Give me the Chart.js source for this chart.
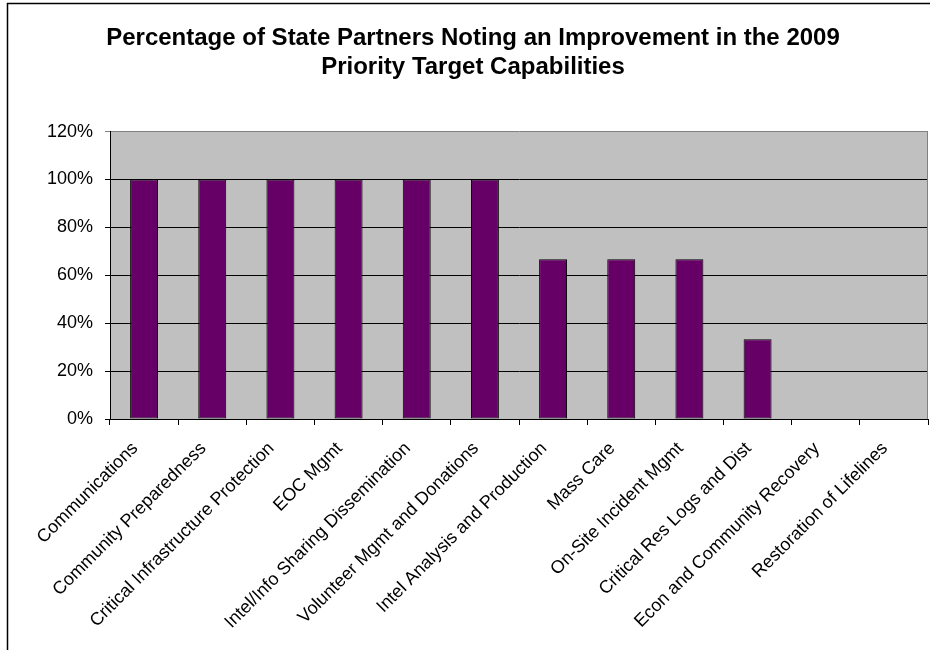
<!DOCTYPE html>
<html>
<head>
<meta charset="utf-8">
<script src="https://cdn.jsdelivr.net/npm/chart.js@4/dist/chart.umd.min.js"></script>
<style>
    body { margin: 0; background: #fff; }
    #wrap { width: 930px; height: 650px; position: relative; }
</style>
</head>
<body>
<div id="wrap"><canvas id="chart" width="930" height="650"></canvas></div>
<script>
    "use strict";

    // Data
    var categories = [
        "Communications",
        "Community Preparedness",
        "Critical Infrastructure Protection",
        "EOC Mgmt",
        "Intel/Info Sharing Dissemination",
        "Volunteer Mgmt and Donations",
        "Intel Analysis and Production",
        "Mass Care",
        "On-Site Incident Mgmt",
        "Critical Res Logs and Dist",
        "Econ and Community Recovery",
        "Restoration of Lifelines"
    ];
    var percentImproved = [100, 100, 100, 100, 100, 100, 66.67, 66.67, 66.67, 33.33, 0, 0];
    var titleLines = [
        "Percentage of State Partners Noting an Improvement in the 2009",
        "Priority Target Capabilities"
    ];
    var yMin = 0, yMax = 120, yStep = 20;

    var fontFamily = "'Liberation Sans', Arial, sans-serif";

    // Grey plot area + outer frame, Excel style
    var excelFrame = {
        id: "excelFrame",
        beforeDraw: function (chart) {
            var ctx = chart.ctx, a = chart.chartArea;
            ctx.save();
            ctx.fillStyle = "#fff";
            ctx.fillRect(0, 0, chart.width, chart.height);
            ctx.strokeStyle = "#000";
            ctx.lineWidth = 1.5;
            ctx.strokeRect(7.5, 3.5, 1000, 1000);
            ctx.fillStyle = "#C0C0C0";
            ctx.fillRect(a.left, a.top, a.right - a.left, a.bottom - a.top);
            ctx.restore();
        },
        beforeDatasetsDraw: function (chart) {
            var ctx = chart.ctx, a = chart.chartArea;
            ctx.save();
            ctx.strokeStyle = "#808080";
            ctx.lineWidth = 1;
            ctx.beginPath();
            ctx.moveTo(a.right - 0.5, a.top);
            ctx.lineTo(a.right - 0.5, a.bottom);
            ctx.stroke();
            ctx.restore();
        }
    };

    var ctx = document.getElementById("chart").getContext("2d");
    var myChart = new Chart(ctx, {
        type: "bar",
        data: {
            labels: categories,
            datasets: [{
                label: "Improvement",
                data: percentImproved,
                backgroundColor: "#660066",
                borderColor: "#000",
                borderWidth: 1,
                borderSkipped: false,
                barPercentage: 0.41,
                categoryPercentage: 1
            }]
        },
        options: {
            responsive: false,
            animation: false,
            layout: { padding: { left: 18, right: 2, top: 0, bottom: 0 } },
            plugins: {
                legend: { display: false },
                tooltip: { enabled: false },
                title: {
                    display: true,
                    text: titleLines,
                    color: "#000",
                    font: { family: fontFamily, size: 24, weight: "bold", lineHeight: 1.2 },
                    padding: { top: 24, bottom: 50 }
                }
            },
            scales: {
                x: {
                    grid: { drawOnChartArea: false, drawTicks: true, tickLength: 6, color: "#000" },
                    border: { color: "#000", width: 1 },
                    ticks: {
                        autoSkip: false,
                        maxRotation: 45,
                        minRotation: 45,
                        color: "#000",
                        font: { family: fontFamily, size: 18 },
                        padding: 13,
                        labelOffset: -9
                    },
                    afterFit: function (scale) { scale.height = 231; }
                },
                y: {
                    min: yMin,
                    max: yMax,
                    grid: {
                        color: function (c) { return c.tick && c.tick.value === yMax ? "#808080" : "#000"; },
                        tickLength: 5
                    },
                    border: { color: "#000", width: 1 },
                    ticks: {
                        stepSize: yStep,
                        color: "#000",
                        padding: 12,
                        font: { family: fontFamily, size: 18 },
                        callback: function (v) { return v + "%"; }
                    },
                    afterFit: function (scale) { scale.width = 92; }
                }
            }
        },
        plugins: [excelFrame]
    });
</script>
</body>
</html>
